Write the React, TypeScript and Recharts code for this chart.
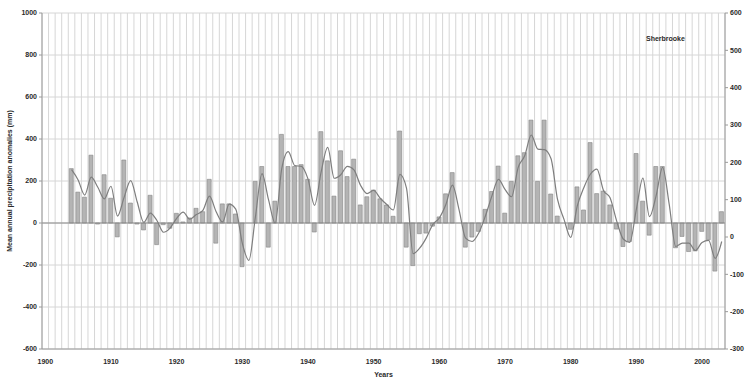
import React from 'react';
import {
  ComposedChart,
  Bar,
  Line,
  XAxis,
  YAxis,
  CartesianGrid,
  ReferenceLine,
} from 'recharts';

// Years on the category axis
const years: number[] = [];
for (let y = 1900; y <= 2003; y++) years.push(y);

// Annual precipitation anomalies (mm), 1904–2003 (no record before 1904)
const anomalies: (number | null)[] = [
  null, null, null, null,
  259, 147, 123, 323, -5, 230, 118, -66, 300, 95,
  -5, -33, 132, -103, -8, -25, 46, 5, 24, 70,
  54, 208, -96, 91, 91, 43, -208, 0, 198, 269,
  -115, 104, 422, 269, 269, 278, 208, -43, 435, 296,
  128, 344, 221, 304, 86, 125, 157, 115, 86, 32,
  438, -115, -203, -51, -48, -15, 29, 139, 240, 0,
  -115, -67, -40, 65, 150, 271, 47, 198, 320, 335,
  490, 198, 490, 138, 33, 0, -30, 172, 62, 383,
  140, 152, 86, -29, -112, -88, 331, 104, -58, 269,
  269, 0, -118, -64, -136, -133, -40, -80, -229, 54,
];

// Smoothed anomaly curve (mm)
const smoothed: (number | null)[] = [
  null, null, null, null,
  254, 205, 133, 218, 170, 115, 175, 33, 122, 202,
  100, 3, 47, 12, -44, -24, 22, 52, 18, 40,
  60, 128, 55, 5, 90, 66, -96, -178, 30, 235,
  110, 0, 258, 340, 273, 270, 210, 84, 242, 360,
  213, 230, 270, 253, 180, 140, 155, 118, 88, 62,
  232, 166, -146, -120, -72, -8, 24, 88, 180, 64,
  -72, -88, -48, 32, 128, 208, 160, 125, 264, 320,
  419, 352, 349, 307, 112, 16, -69, 80, 168, 232,
  257, 155, 120, 10, -76, -92, 65, 214, 30, 128,
  265, 90, -112, -96, -96, -131, -93, -83, -168, -88,
];

const leftTicks = [-600, -400, -200, 0, 200, 400, 600, 800, 1000];
const rightTicks = [-300, -200, -100, 0, 100, 200, 300, 400, 500, 600];

const data = years.map((year, i) => ({
  year,
  anomaly: anomalies[i],
  smooth: smoothed[i],
}));

const FONT = '"Liberation Sans", Arial, sans-serif';
const tickStyle = { fontSize: 7, fill: '#2a2a2a', fontFamily: FONT, fontWeight: 700 };

// Vertical grid lines sit on the boundaries between yearly categories
const boundaryLines = (props: any) => {
  const off = props.offset || {};
  const left = off.left ?? 42;
  const w = off.width ?? 683;
  const n = years.length;
  const xs: number[] = [];
  for (let i = 0; i <= n; i++) xs.push(left + (i * w) / n);
  return xs;
};

export default function App() {
  return (
    <div style={{ position: 'absolute', left: 0, top: 0, width: 746, height: 382, background: '#fff' }}>
      <ComposedChart
        width={746}
        height={382}
        data={data}
        margin={{ top: 13, right: 0, bottom: 3, left: 12 }}
      >
        <CartesianGrid
          stroke="#d6d6d6"
          strokeWidth={1}
          verticalCoordinatesGenerator={boundaryLines}
          yAxisId="left"
        />
        <XAxis
          dataKey="year"
          interval={9}
          tickLine={false}
          axisLine={{ stroke: '#9a9a9a' }}
          tick={tickStyle}
          height={30}
          tickMargin={4}
          label={{
            value: 'Years',
            position: 'insideBottom',
            offset: 2,
            style: { fontSize: 7, fontWeight: 700, fill: '#2a2a2a', fontFamily: FONT },
          }}
        />
        <YAxis
          yAxisId="left"
          domain={[-600, 1000]}
          ticks={leftTicks}
          interval={0}
          width={30}
          tickSize={3}
          tick={tickStyle}
          axisLine={{ stroke: '#9a9a9a' }}
          tickLine={{ stroke: '#9a9a9a' }}
          label={{
            value: 'Mean annual precipitation anomalies (mm)',
            angle: -90,
            position: 'insideLeft',
            offset: -2,
            style: { fontSize: 7, fontWeight: 700, fill: '#2a2a2a', fontFamily: FONT, textAnchor: 'middle' },
          }}
        />
        <YAxis
          yAxisId="right"
          orientation="right"
          domain={[-300, 600]}
          ticks={rightTicks}
          interval={0}
          width={21}
          tickSize={3}
          tick={tickStyle}
          axisLine={{ stroke: '#9a9a9a' }}
          tickLine={{ stroke: '#9a9a9a' }}
          allowDataOverflow
        />
        <ReferenceLine yAxisId="left" y={0} stroke="#8a8a8a" strokeWidth={1} />
        <Bar
          yAxisId="left"
          dataKey="anomaly"
          barSize={4}
          fill="#b4b4b4"
          stroke="#858585"
          strokeWidth={0.6}
          isAnimationActive={false}
        />
        <Line
          yAxisId="left"
          dataKey="smooth"
          type="monotone"
          stroke="#7e7e7e"
          strokeWidth={1.2}
          dot={false}
          connectNulls={false}
          isAnimationActive={false}
        />
      </ComposedChart>
      <span
        style={{
          position: 'absolute',
          left: 646,
          top: 35,
          fontSize: 7,
          fontWeight: 700,
          color: '#2a2a2a',
          fontFamily: FONT,
          whiteSpace: 'nowrap',
        }}
      >
        Sherbrooke
      </span>
    </div>
  );
}
